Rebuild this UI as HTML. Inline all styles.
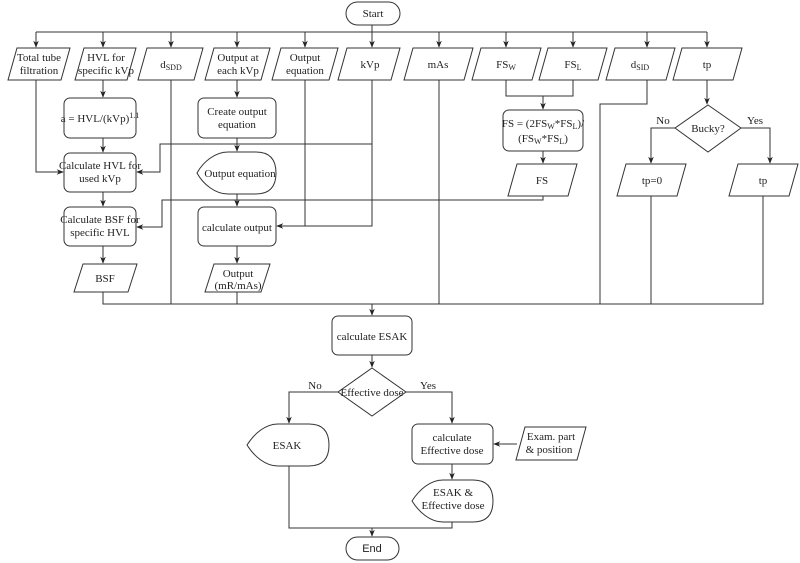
<!DOCTYPE html>
<html><head><meta charset="utf-8"><style>
html,body{margin:0;padding:0;background:#fff;}
svg{display:block;}
text{font-family:"Liberation Serif",serif;font-size:11px;fill:#222;text-anchor:middle;}
.s{fill:#fff;stroke:#333;stroke-width:1;}
.l{fill:none;stroke:#333;stroke-width:1;}
</style></head><body>
<svg width="800" height="563" viewBox="0 0 800 563" xmlns="http://www.w3.org/2000/svg">
<defs><marker id="a" viewBox="0 0 10 10" refX="9" refY="5" markerWidth="7" markerHeight="7" orient="auto"><path d="M0,1 L10,5 L0,9 L3,5 z" fill="#222"/></marker></defs>

<!-- Start -->
<rect class="s" x="346" y="2" width="54" height="23" rx="11.5"/>
<text x="373" y="17">Start</text>
<path class="l" d="M372,25 V32"/>
<path class="l" d="M36,32 H707"/>
<g class="l" marker-end="url(#a)">
<path class="l" d="M36,32 V47"/><path class="l" d="M103,32 V47"/><path class="l" d="M171,32 V47"/>
<path class="l" d="M237,32 V47"/><path class="l" d="M305,32 V47"/><path class="l" d="M372,32 V47"/>
<path class="l" d="M439,32 V47"/><path class="l" d="M506,32 V47"/><path class="l" d="M573,32 V47"/>
<path class="l" d="M647,32 V47"/><path class="l" d="M707,32 V47"/>
</g>

<!-- top parallelograms -->
<g>
<path class="s" d="M17,48 H70 L61,80 H8 Z"/><text x="39" y="61">Total tube</text><text x="39" y="74">filtration</text>
<path class="s" d="M84,48 H136 L127,80 H75 Z"/><text x="106" y="61">HVL for</text><text x="106" y="74">specific kVp</text>
<path class="s" d="M147,48 H203 L194,80 H138 Z"/><text x="171" y="68">d<tspan font-size="8" dy="2">SDD</tspan></text>
<path class="s" d="M214,48 H270 L261,80 H205 Z"/><text x="238" y="61">Output at</text><text x="238" y="74">each kVp</text>
<path class="s" d="M281,48 H338 L329,80 H272 Z"/><text x="305" y="61">Output</text><text x="305" y="74">equation</text>
<path class="s" d="M347,48 H400 L391,80 H338 Z"/><text x="370" y="68">kVp</text>
<path class="s" d="M413,48 H473 L464,80 H404 Z"/><text x="438" y="68">mAs</text>
<path class="s" d="M481,48 H541 L532,80 H472 Z"/><text x="506" y="68">FS<tspan font-size="8" dy="2">W</tspan></text>
<path class="s" d="M548,48 H607 L598,80 H539 Z"/><text x="573" y="68">FS<tspan font-size="8" dy="2">L</tspan></text>
<path class="s" d="M615,48 H675 L666,80 H606 Z"/><text x="640" y="68">d<tspan font-size="8" dy="2">SID</tspan></text>
<path class="s" d="M682,48 H742 L733,80 H673 Z"/><text x="707" y="68">tp</text>
</g>

<!-- HVL column -->
<path class="l" d="M103,80 V97" marker-end="url(#a)"/>
<rect class="s" x="64" y="98" width="72" height="40" rx="6"/>
<text x="100" y="122">a = HVL/(kVp)<tspan font-size="8" dy="-4">1.1</tspan></text>
<path class="l" d="M103,138 V152" marker-end="url(#a)"/>
<rect class="s" x="64" y="153" width="72" height="39" rx="6"/>
<text x="100" y="169">Calculate HVL for</text><text x="100" y="182">used kVp</text>
<path class="l" d="M103,192 V206" marker-end="url(#a)"/>
<rect class="s" x="64" y="207" width="72" height="39" rx="6"/>
<text x="100" y="223">Calculate BSF for</text><text x="100" y="236">specific HVL</text>
<path class="l" d="M103,246 V263" marker-end="url(#a)"/>
<path class="s" d="M83,264 H137 L128,292 H74 Z"/><text x="105" y="282">BSF</text>

<!-- tube filtration -->
<path class="l" d="M36,80 V172 H63" marker-end="url(#a)"/>

<!-- Output column -->
<path class="l" d="M237,80 V97" marker-end="url(#a)"/>
<rect class="s" x="198" y="98" width="78" height="40" rx="6"/>
<text x="237" y="115">Create output</text><text x="237" y="128">equation</text>
<path class="l" d="M237,138 V151" marker-end="url(#a)"/>
<path class="s" d="M197,173 C203,162 215,152 228,152 H256 Q276,152 276,173 Q276,194 256,194 H228 C215,194 203,184 197,173 Z"/>
<text x="240" y="177">Output equation</text>
<path class="l" d="M237,194 V206" marker-end="url(#a)"/>
<rect class="s" x="198" y="207" width="78" height="39" rx="6"/>
<text x="237" y="231">calculate output</text>
<path class="l" d="M237,246 V263" marker-end="url(#a)"/>
<path class="s" d="M214,264 H270 L261,292 H205 Z"/><text x="238" y="277">Output</text><text x="238" y="289">(mR/mAs)</text>

<!-- kVp to HVL and output -->
<path class="l" d="M372,80 V144 H160 V172 H137" marker-end="url(#a)"/>
<path class="l" d="M372,144 V226 H277" marker-end="url(#a)"/>
<path class="l" d="M305,80 V226"/>

<!-- FS -->
<path class="l" d="M506,80 V96 H573 V80"/>
<path class="l" d="M543,96 V109" marker-end="url(#a)"/>
<rect class="s" x="503" y="110" width="80" height="41" rx="6"/>
<text x="543" y="127">FS = (2FS<tspan font-size="8" dy="2">W</tspan><tspan dy="-2">*FS</tspan><tspan font-size="8" dy="2">L</tspan><tspan dy="-2">)/</tspan></text>
<text x="543" y="142">(FS<tspan font-size="8" dy="2">W</tspan><tspan dy="-2">*FS</tspan><tspan font-size="8" dy="2">L</tspan><tspan dy="-2">)</tspan></text>
<path class="l" d="M543,151 V163" marker-end="url(#a)"/>
<path class="s" d="M517,164 H577 L568,196 H508 Z"/><text x="542" y="184">FS</text>
<path class="l" d="M543,196 V200 H162 V227 H137" marker-end="url(#a)"/>

<!-- tp -->
<path class="l" d="M707,80 V104" marker-end="url(#a)"/>
<path class="s" d="M708,105 L741,128 L708,152 L675,128 Z"/>
<text x="708" y="132">Bucky?</text>
<text x="663" y="124">No</text><text x="755" y="124">Yes</text>
<path class="l" d="M675,128 H651 V163" marker-end="url(#a)"/>
<path class="l" d="M741,128 H770 V163" marker-end="url(#a)"/>
<path class="s" d="M626,164 H686 L677,196 H617 Z"/><text x="652" y="184">tp=0</text>
<path class="s" d="M738,164 H798 L789,196 H729 Z"/><text x="763" y="184">tp</text>

<!-- bottom bus -->
<path class="l" d="M103,292 V304 H763 V196"/>
<path class="l" d="M171,80 V304"/><path class="l" d="M237,292 V304"/>
<path class="l" d="M439,80 V304"/>
<path class="l" d="M647,80 V104 H600 V304"/>
<path class="l" d="M651,196 V304"/>
<path class="l" d="M372,304 V315" marker-end="url(#a)"/>

<rect class="s" x="332" y="316" width="80" height="39" rx="6"/>
<text x="372" y="340">calculate ESAK</text>
<path class="l" d="M372,355 V367" marker-end="url(#a)"/>
<path class="s" d="M372,368 L406,392 L372,416 L338,392 Z"/>
<text x="372" y="396">Effective dose</text>
<text x="315" y="389">No</text><text x="428" y="389">Yes</text>
<path class="l" d="M338,392 H289 V423" marker-end="url(#a)"/>
<path class="l" d="M406,392 H452 V423" marker-end="url(#a)"/>

<path class="s" d="M247,445 C254,434 265,424 278,424 H309 Q329,424 329,445 Q329,466 309,466 H278 C265,466 254,456 247,445 Z"/>
<text x="287" y="449">ESAK</text>
<rect class="s" x="412" y="424" width="81" height="40" rx="6"/>
<text x="452" y="441">calculate</text><text x="452" y="454">Effective dose</text>
<path class="s" d="M525,427 H586 L577,460 H516 Z"/>
<text x="551" y="440">Exam. part</text><text x="549" y="453">&amp; position</text>
<path class="l" d="M517,444 H494" marker-end="url(#a)"/>
<path class="l" d="M452,464 V479" marker-end="url(#a)"/>
<path class="s" d="M412,501 C419,490 430,480 443,480 H473 Q493,480 493,501 Q493,522 473,522 H443 C430,522 419,512 412,501 Z"/>
<text x="453" y="496">ESAK &amp;</text><text x="453" y="509">Effective dose</text>

<path class="l" d="M289,466 V528 H452 V522"/>
<path class="l" d="M372,528 V536" marker-end="url(#a)"/>
<rect class="s" x="346" y="537" width="53" height="23" rx="11.5"/>
<text x="372" y="552" style="font-family:'Liberation Sans',sans-serif">End</text>
</svg>
</body></html>
